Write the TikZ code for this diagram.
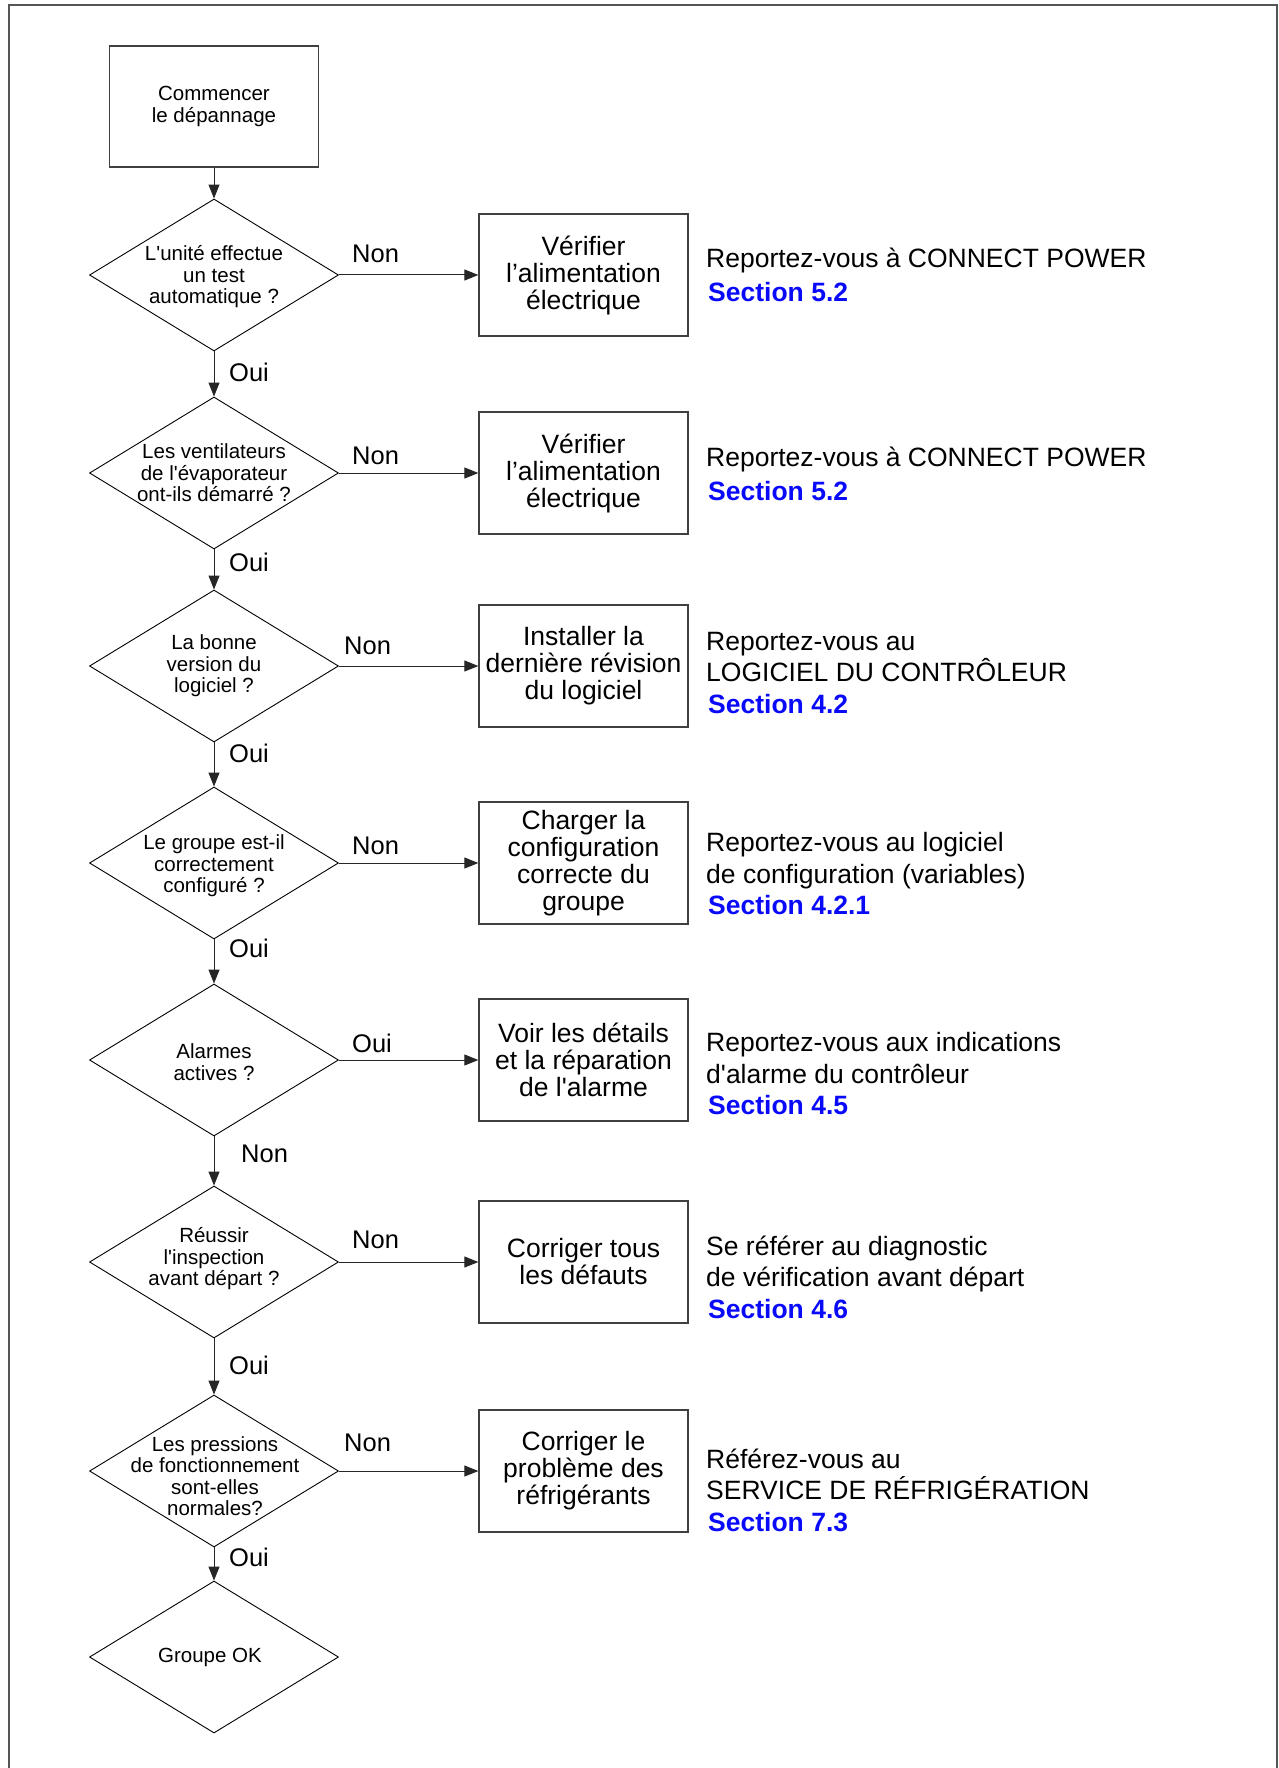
\documentclass[tikz,border=0pt]{standalone}
\usepackage{fontspec}
\setmainfont{Liberation Sans}[Ligatures=TeXOff]
\usetikzlibrary{arrows.meta,shapes.geometric}
\definecolor{framegray}{RGB}{85,85,85}
\definecolor{secblue}{RGB}{10,10,250}
\newcommand{\sect}[1]{\hspace*{2pt}{\bfseries\color{secblue}#1}}
\begin{document}
\begin{tikzpicture}[x=1pt,y=-1pt,
  dia/.style={draw=black, shape=diamond, minimum width=249pt, minimum height=152pt, inner sep=0pt, line width=0.9pt},
  dtext/.style={align=center, inner sep=0pt, font=\fontsize{20.5}{21.5}\selectfont},
  stepbox/.style={draw=black!75, line width=1.3pt, minimum width=209pt, minimum height=122pt, inner sep=0pt, align=center, font=\fontsize{26.5}{27}\selectfont},
  startbox/.style={draw=black!75, line width=1.3pt, minimum width=209pt, minimum height=121pt, inner sep=0pt, align=center, font=\fontsize{20.5}{21.5}\selectfont},
  reftext/.style={anchor=west, align=left, inner sep=0pt, font=\fontsize{26.5}{31.5}\selectfont},
  lab/.style={anchor=west, inner sep=0pt, font=\fontsize{25.5}{27}\selectfont},
  arr/.style={draw=black!85, line width=1pt, -{Triangle[length=14pt,width=11pt]}}
]
\useasboundingbox (0,0) rectangle (1278,1768);
\draw[framegray, line width=2pt] (9,1770) -- (9,5) -- (1277,5) -- (1277,1770);

% start
\node[startbox] (s) at (214,106.5) {Commencer\\le dépannage};

% diamonds
\node[dia] (d1) at (214,275) {};
\node[dia] (d2) at (214,473) {};
\node[dia] (d3) at (214,666) {};
\node[dia] (d4) at (214,863) {};
\node[dia] (d5) at (214,1060) {};
\node[dia] (d6) at (214,1262) {};
\node[dia] (d7) at (214,1471) {};
\node[dia] (d8) at (214,1657) {};

\node[dtext] (t1) at (214,277) {L'unité effectue\\un test\\automatique ?};
\node[dtext] (t2) at (214,473) {Les ventilateurs\\de l'évaporateur\\ont-ils démarré ?};
\node[dtext] (t3) at (214,666) {La bonne\\version du\\logiciel ?};
\node[dtext] (t4) at (214,866) {Le groupe est-il\\correctement\\configuré ?};
\node[dtext] (t5) at (214,1062) {Alarmes\\actives ?};
\node[dtext] (t6) at (214,1259) {Réussir\\l'inspection\\avant départ ?};
\node[dtext] (t7) at (215,1476) {Les pressions\\de fonctionnement\\sont-elles\\normales?};
\node[dtext] (t8) at (210,1657) {Groupe OK};

% boxes
\node[stepbox] (b1) at (583.5,275) {Vérifier\\l’alimentation\\électrique};
\node[stepbox] (b2) at (583.5,473) {Vérifier\\l’alimentation\\électrique};
\node[stepbox] (b3) at (583.5,666) {Installer la\\dernière révision\\du logiciel};
\node[stepbox] (b4) at (583.5,863) {Charger la\\configuration\\correcte du\\groupe};
\node[stepbox] (b5) at (583.5,1060) {Voir les détails\\et la réparation\\de l'alarme};
\node[stepbox] (b6) at (583.5,1262) {Corriger tous\\les défauts};
\node[stepbox] (b7) at (583.5,1471) {Corriger le\\problème des\\réfrigérants};

% reference texts
\node[reftext] (r1) at (706,275) {Reportez-vous à CONNECT POWER\\[3pt]\sect{Section 5.2}};
\node[reftext] (r2) at (706,474) {Reportez-vous à CONNECT POWER\\[3pt]\sect{Section 5.2}};
\node[reftext] (r3) at (706,673) {Reportez-vous au\\LOGICIEL DU CONTRÔLEUR\\\sect{Section 4.2}};
\node[reftext] (r4) at (706,874) {Reportez-vous au logiciel\\de configuration (variables)\\\sect{Section 4.2.1}};
\node[reftext] (r5) at (706,1074) {Reportez-vous aux indications\\d'alarme du contrôleur\\\sect{Section 4.5}};
\node[reftext] (r6) at (706,1277) {Se référer au diagnostic\\de vérification avant départ\\\sect{Section 4.6}};
\node[reftext] (r7) at (706,1490) {Référez-vous au\\SERVICE DE RÉFRIGÉRATION\\\sect{Section 7.3}};

% vertical arrows
\draw[arr] (s.south) -- (d1.north);
\draw[arr] (d1.south) -- (d2.north);
\draw[arr] (d2.south) -- (d3.north);
\draw[arr] (d3.south) -- (d4.north);
\draw[arr] (d4.south) -- (d5.north);
\draw[arr] (d5.south) -- (d6.north);
\draw[arr] (d6.south) -- (d7.north);
\draw[arr] (d7.south) -- (d8.north);

% horizontal arrows
\draw[arr] (d1.east) -- (b1.west);
\draw[arr] (d2.east) -- (b2.west);
\draw[arr] (d3.east) -- (b3.west);
\draw[arr] (d4.east) -- (b4.west);
\draw[arr] (d5.east) -- (b5.west);
\draw[arr] (d6.east) -- (b6.west);
\draw[arr] (d7.east) -- (b7.west);

% labels on horizontal arrows
\node[lab] (n1) at (352,254) {Non};
\node[lab] (n2) at (352,456) {Non};
\node[lab] (n3) at (344,646) {Non};
\node[lab] (n4) at (352,846) {Non};
\node[lab] (n5) at (352,1043) {Oui};
\node[lab] (n6) at (352,1240) {Non};
\node[lab] (n7) at (344,1443) {Non};

% labels on vertical arrows
\node[lab] (o1) at (229,372) {Oui};
\node[lab] (o2) at (229,562) {Oui};
\node[lab] (o3) at (229,753) {Oui};
\node[lab] (o4) at (229,948) {Oui};
\node[lab] (o5) at (241,1154) {Non};
\node[lab] (o6) at (229,1365) {Oui};
\node[lab] (o7) at (229,1557) {Oui};
\end{tikzpicture}
\end{document}
